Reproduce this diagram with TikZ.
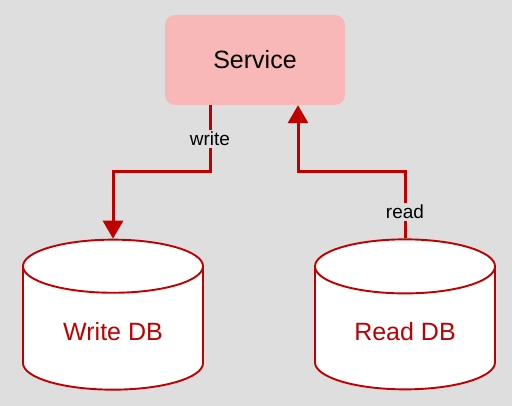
\documentclass[tikz,border=0pt]{standalone}
\usepackage{fontspec}
\setmainfont{Liberation Sans}
\usepackage{tikz}
\usetikzlibrary{shapes.geometric,arrows.meta}
\definecolor{bgray}{HTML}{DEDEDE}
\definecolor{dbred}{HTML}{C00000}
\definecolor{svcpink}{HTML}{F8B8B8}

\begin{document}
\begin{tikzpicture}[x=1pt,y=1pt,
  svcbox/.style={rectangle,rounded corners=10pt,fill=svcpink,minimum width=180pt,minimum height=90pt,font=\fontsize{25}{30}\selectfont},
  dbcyl/.style={cylinder,shape border rotate=90,aspect=0.5,draw=dbred,line width=1.9pt,fill=white,minimum width=180pt,minimum height=150pt,text=dbred,font=\fontsize{25}{30}\selectfont},
  link/.style={dbred,line width=3pt,-{Triangle[width=20pt,length=18pt]}},
  tag/.style={fill=bgray,inner sep=2pt,text=black,font=\fontsize{19}{22}\selectfont}]
\useasboundingbox (0,0) rectangle (512,406);
\fill[bgray] (0,0) rectangle (512,406);
\node[svcbox] (svc) at (255,346) {Service};
\node[dbcyl] (wdb) at (113,74) {\raisebox{-18pt}{Write DB}};
\node[dbcyl] (rdb) at (405,74) {\raisebox{-18pt}{Read DB}};
\coordinate (turn) at (0,234);
\draw[link] ([xshift=-45pt]svc.south) -- node[tag] (wlab) {write} ([xshift=-45pt]svc.south |- turn) -| (wdb.north);
\draw[link] (rdb.north) -- node[tag,pos=0.4] (rlab) {read} (rdb.north |- turn) -| ([xshift=43pt]svc.south);
\end{tikzpicture}
\end{document}
